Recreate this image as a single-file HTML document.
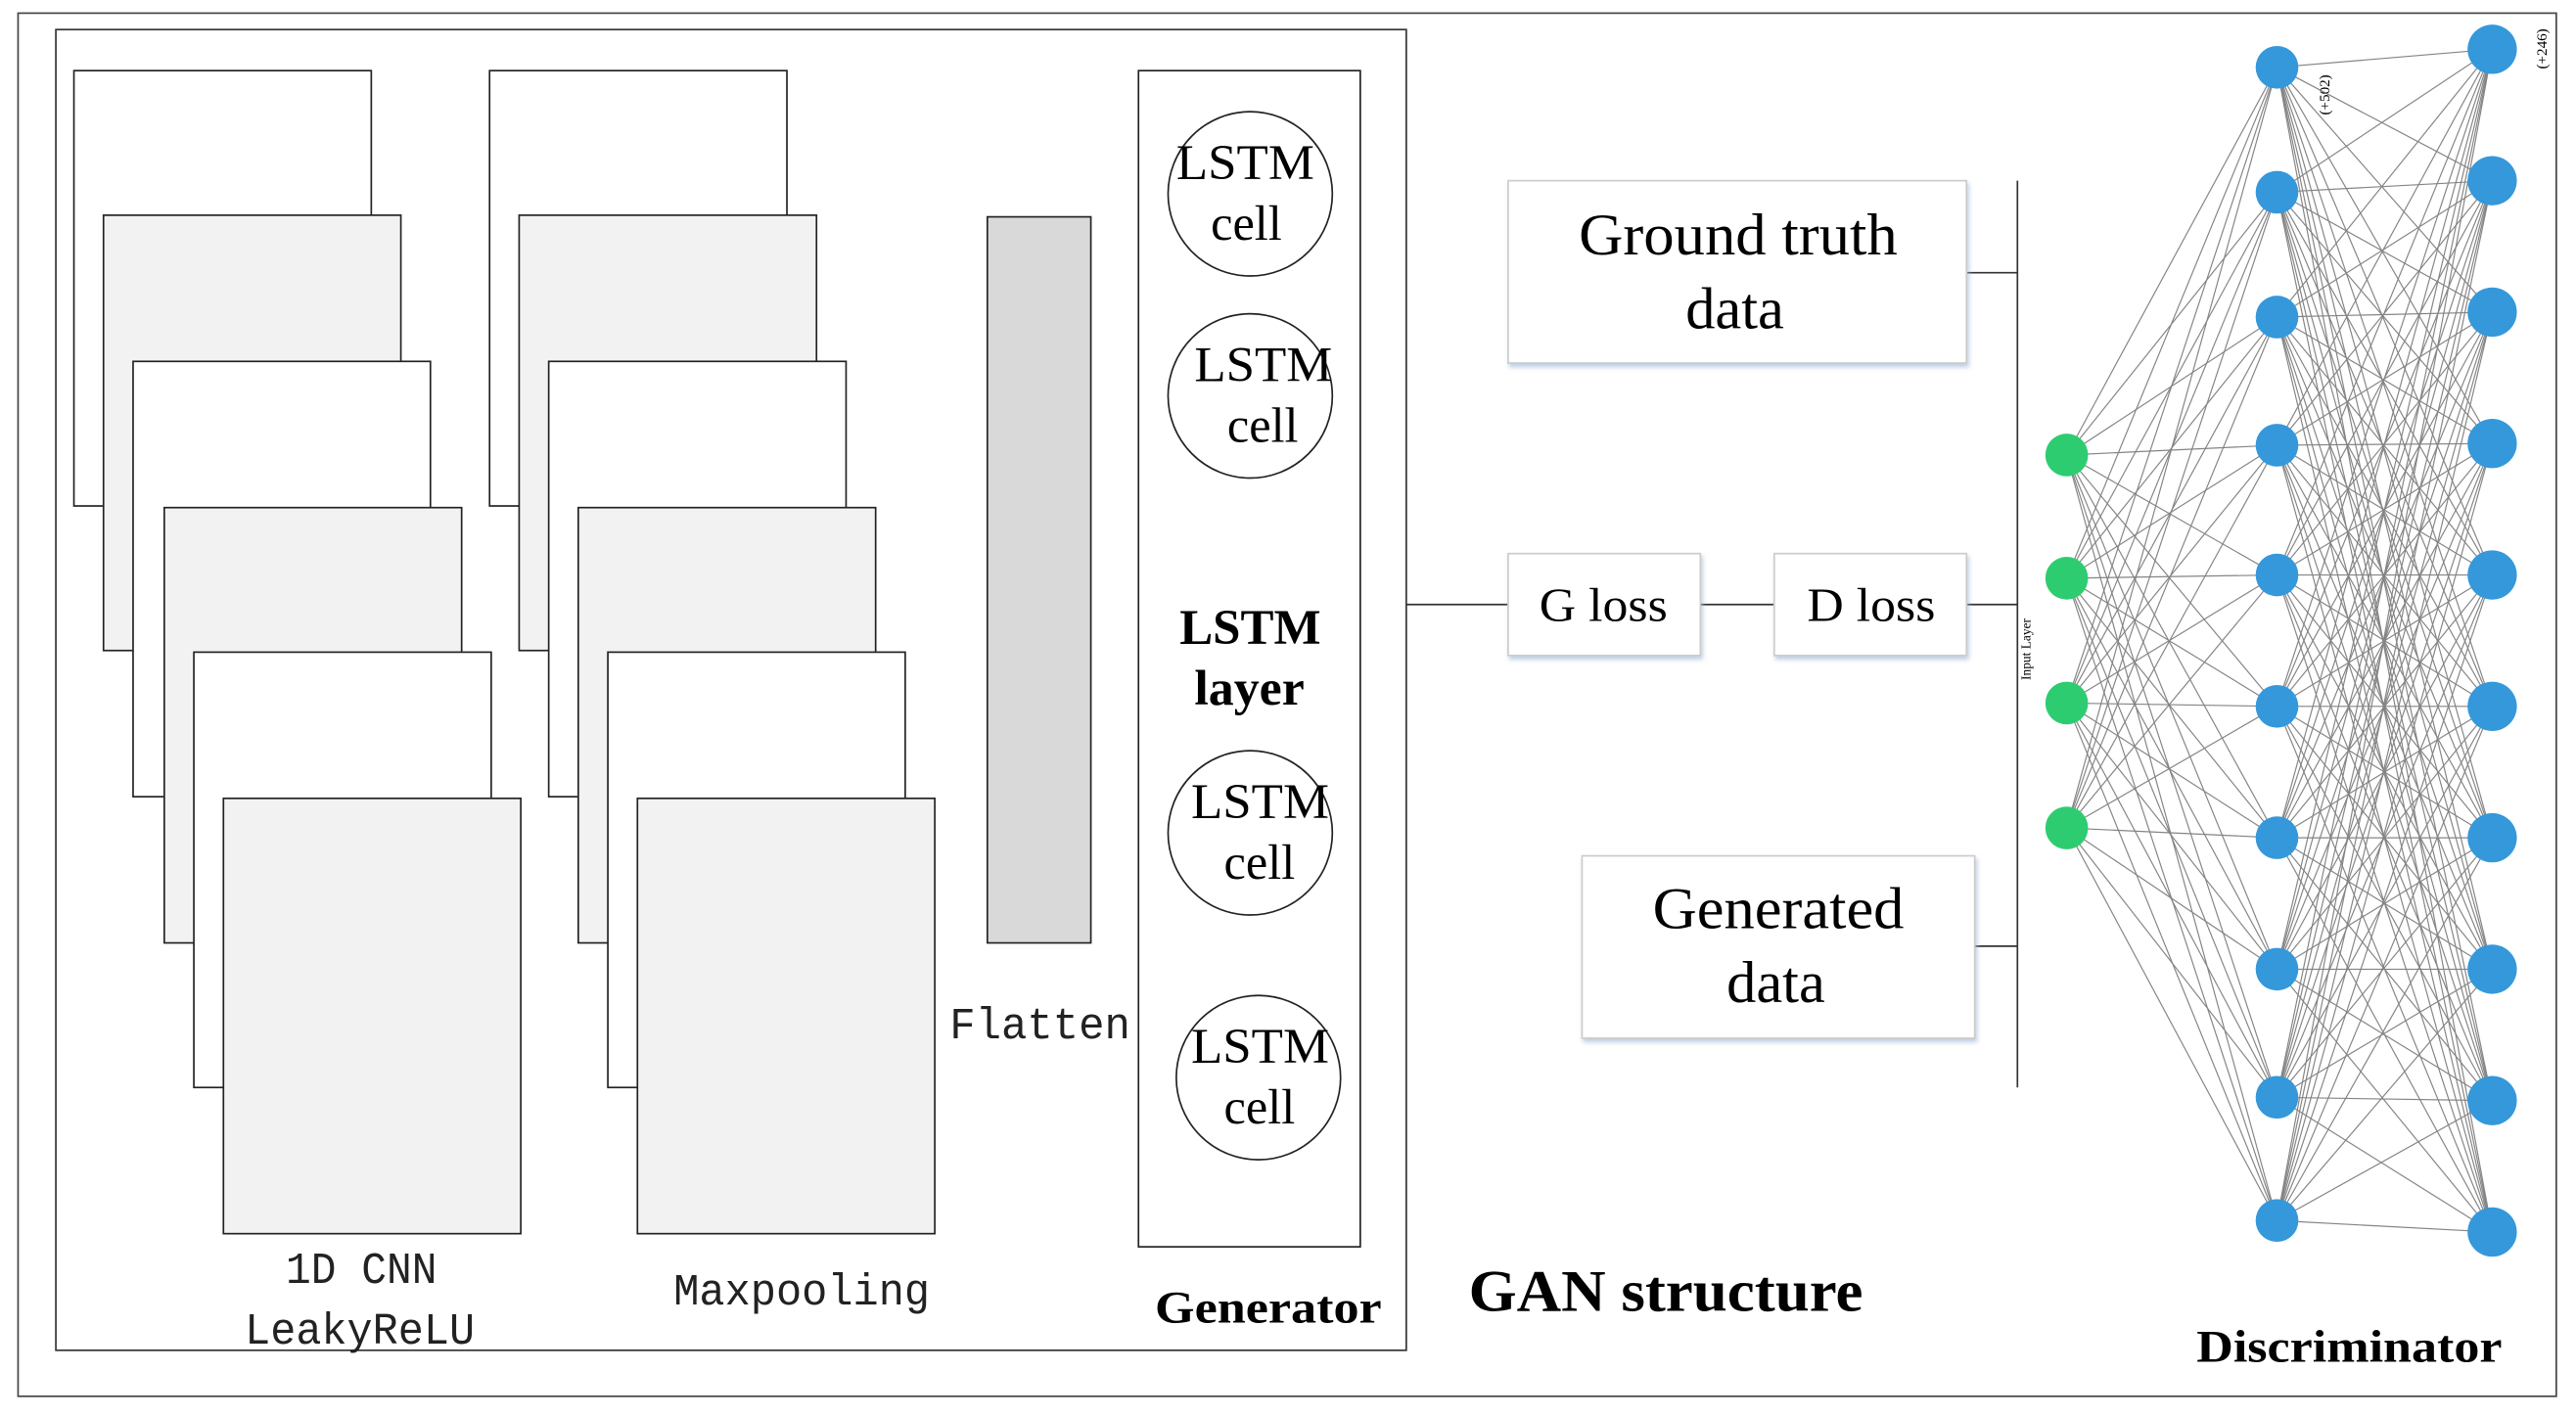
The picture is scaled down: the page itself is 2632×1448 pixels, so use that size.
<!DOCTYPE html>
<html><head><meta charset="utf-8"><style>
html,body{margin:0;padding:0;background:#fff;}
svg{display:block}
.s{font-family:"Liberation Serif",serif;fill:#000}
.m{font-family:"Liberation Mono",monospace;fill:#222}
</style></head><body>
<svg width="2632" height="1448" viewBox="0 0 1568 862.6" preserveAspectRatio="none" xmlns="http://www.w3.org/2000/svg">
<defs><filter id="sh" x="-10%" y="-10%" width="130%" height="140%"><feDropShadow dx="1" dy="2" stdDeviation="1.5" flood-color="#9fb8d8" flood-opacity="0.7"/></filter></defs>
<rect x="11" y="8" width="1545" height="842" fill="#fff" stroke="#444" stroke-width="1"/>
<rect x="34" y="18" width="822" height="804" fill="none" stroke="#333" stroke-width="1"/>
<g stroke="#222" stroke-width="1">
<rect x="45" y="43" width="181" height="265" fill="#fff"/>
<rect x="63" y="131" width="181" height="265" fill="#f2f2f2"/>
<rect x="81" y="220" width="181" height="265" fill="#fff"/>
<rect x="100" y="309" width="181" height="265" fill="#f2f2f2"/>
<rect x="118" y="397" width="181" height="265" fill="#fff"/>
<rect x="136" y="486" width="181" height="265" fill="#f2f2f2"/>
<rect x="298" y="43" width="181" height="265" fill="#fff"/>
<rect x="316" y="131" width="181" height="265" fill="#f2f2f2"/>
<rect x="334" y="220" width="181" height="265" fill="#fff"/>
<rect x="352" y="309" width="181" height="265" fill="#f2f2f2"/>
<rect x="370" y="397" width="181" height="265" fill="#fff"/>
<rect x="388" y="486" width="181" height="265" fill="#f2f2f2"/>
<rect x="601" y="132" width="63" height="442" fill="#d9d9d9"/>
<rect x="693" y="43" width="135" height="716" fill="#fff"/>
<circle cx="761" cy="118" r="50" fill="#fff"/>
<circle cx="761" cy="241" r="50" fill="#fff"/>
<circle cx="761" cy="507" r="50" fill="#fff"/>
<circle cx="766" cy="656" r="50" fill="#fff"/>
</g>
<g lengthAdjust="spacingAndGlyphs">
<text class="m" x="578" y="632" font-size="27" textLength="110" lengthAdjust="spacingAndGlyphs">Flatten</text>
<text class="m" x="174" y="781" font-size="27" textLength="92" lengthAdjust="spacingAndGlyphs">1D CNN</text>
<text class="m" x="149" y="818" font-size="27" textLength="140" lengthAdjust="spacingAndGlyphs">LeakyReLU</text>
<text class="m" x="410" y="794" font-size="27" textLength="156" lengthAdjust="spacingAndGlyphs">Maxpooling</text>
</g>
<g class="s" font-size="30">
<text x="716" y="109" textLength="84" lengthAdjust="spacingAndGlyphs">LSTM</text><text x="737" y="146">cell</text>
<text x="727" y="232" textLength="84" lengthAdjust="spacingAndGlyphs">LSTM</text><text x="747" y="269">cell</text>
<text x="725" y="498" textLength="84" lengthAdjust="spacingAndGlyphs">LSTM</text><text x="745" y="535">cell</text>
<text x="725" y="647" textLength="84" lengthAdjust="spacingAndGlyphs">LSTM</text><text x="745" y="684">cell</text>
<text x="718" y="392" font-weight="bold" textLength="86" lengthAdjust="spacingAndGlyphs">LSTM</text><text x="727" y="429" font-weight="bold" textLength="67" lengthAdjust="spacingAndGlyphs">layer</text>
<text x="703" y="805" font-size="28" font-weight="bold" textLength="138" lengthAdjust="spacingAndGlyphs">Generator</text>
</g>
<g stroke="#333" stroke-width="1" fill="none">
<line x1="856" y1="368" x2="918" y2="368"/>
<line x1="1035" y1="368" x2="1080" y2="368"/>
<line x1="1197" y1="368" x2="1228" y2="368"/>
<line x1="1197" y1="166" x2="1228" y2="166"/>
<line x1="1202" y1="576" x2="1228" y2="576"/>
<line x1="1228" y1="110" x2="1228" y2="662"/>
</g>
<g fill="#fff" stroke="#ccc" stroke-width="1" filter="url(#sh)">
<rect x="918" y="110" width="279" height="111"/>
<rect x="918" y="337" width="117" height="62"/>
<rect x="1080" y="337" width="117" height="62"/>
<rect x="963" y="521" width="239" height="111"/>
</g>
<g class="s" font-size="36">
<text x="961" y="155" textLength="194" lengthAdjust="spacingAndGlyphs">Ground truth</text><text x="1026" y="200">data</text>
<text x="1006" y="565" textLength="153" lengthAdjust="spacingAndGlyphs">Generated</text><text x="1051" y="610">data</text>
<text x="937" y="378" font-size="29" textLength="78" lengthAdjust="spacingAndGlyphs">G loss</text>
<text x="1100" y="378" font-size="29" textLength="78" lengthAdjust="spacingAndGlyphs">D loss</text>
<text x="894" y="798" font-weight="bold" textLength="240" lengthAdjust="spacingAndGlyphs">GAN structure</text>
<text x="1337" y="829" font-size="28" font-weight="bold" textLength="186" lengthAdjust="spacingAndGlyphs">Discriminator</text>
</g>
<text class="s" font-size="8" transform="translate(1236,414) rotate(-90)">Input Layer</text>
<text class="s" font-size="9" transform="translate(1418,70) rotate(-90)">(+502)</text>
<text class="s" font-size="9" transform="translate(1550,42) rotate(-90)">(+246)</text>
<g id="net" stroke="#666" stroke-width="0.7" opacity="0.8"></g>
<g id="nodes"></g>
<script>
(function(){
var ns="http://www.w3.org/2000/svg";
var g=[277,352,428,504],h1=[41,117,193,271,350,430,510,590,668,743],h2=[30,110,190,270,350,430,510,590,670,750];
var net=document.getElementById('net'),nd=document.getElementById('nodes');
function L(a,b,c,d){var l=document.createElementNS(ns,'line');l.setAttribute('x1',a);l.setAttribute('y1',b);l.setAttribute('x2',c);l.setAttribute('y2',d);net.appendChild(l);}
function C(x,y,r,f){var c=document.createElementNS(ns,'circle');c.setAttribute('cx',x);c.setAttribute('cy',y);c.setAttribute('r',r);c.setAttribute('fill',f);nd.appendChild(c);}
g.forEach(function(a){h1.forEach(function(b){L(1258,a,1386,b);});});
h1.forEach(function(a){h2.forEach(function(b){L(1386,a,1517,b);});});
g.forEach(function(a){C(1258,a,13,'#2ecc71');});
h1.forEach(function(a){C(1386,a,13,'#3498db');});
h2.forEach(function(a){C(1517,a,15,'#3498db');});
})();
</script>
</svg>
</body></html>
